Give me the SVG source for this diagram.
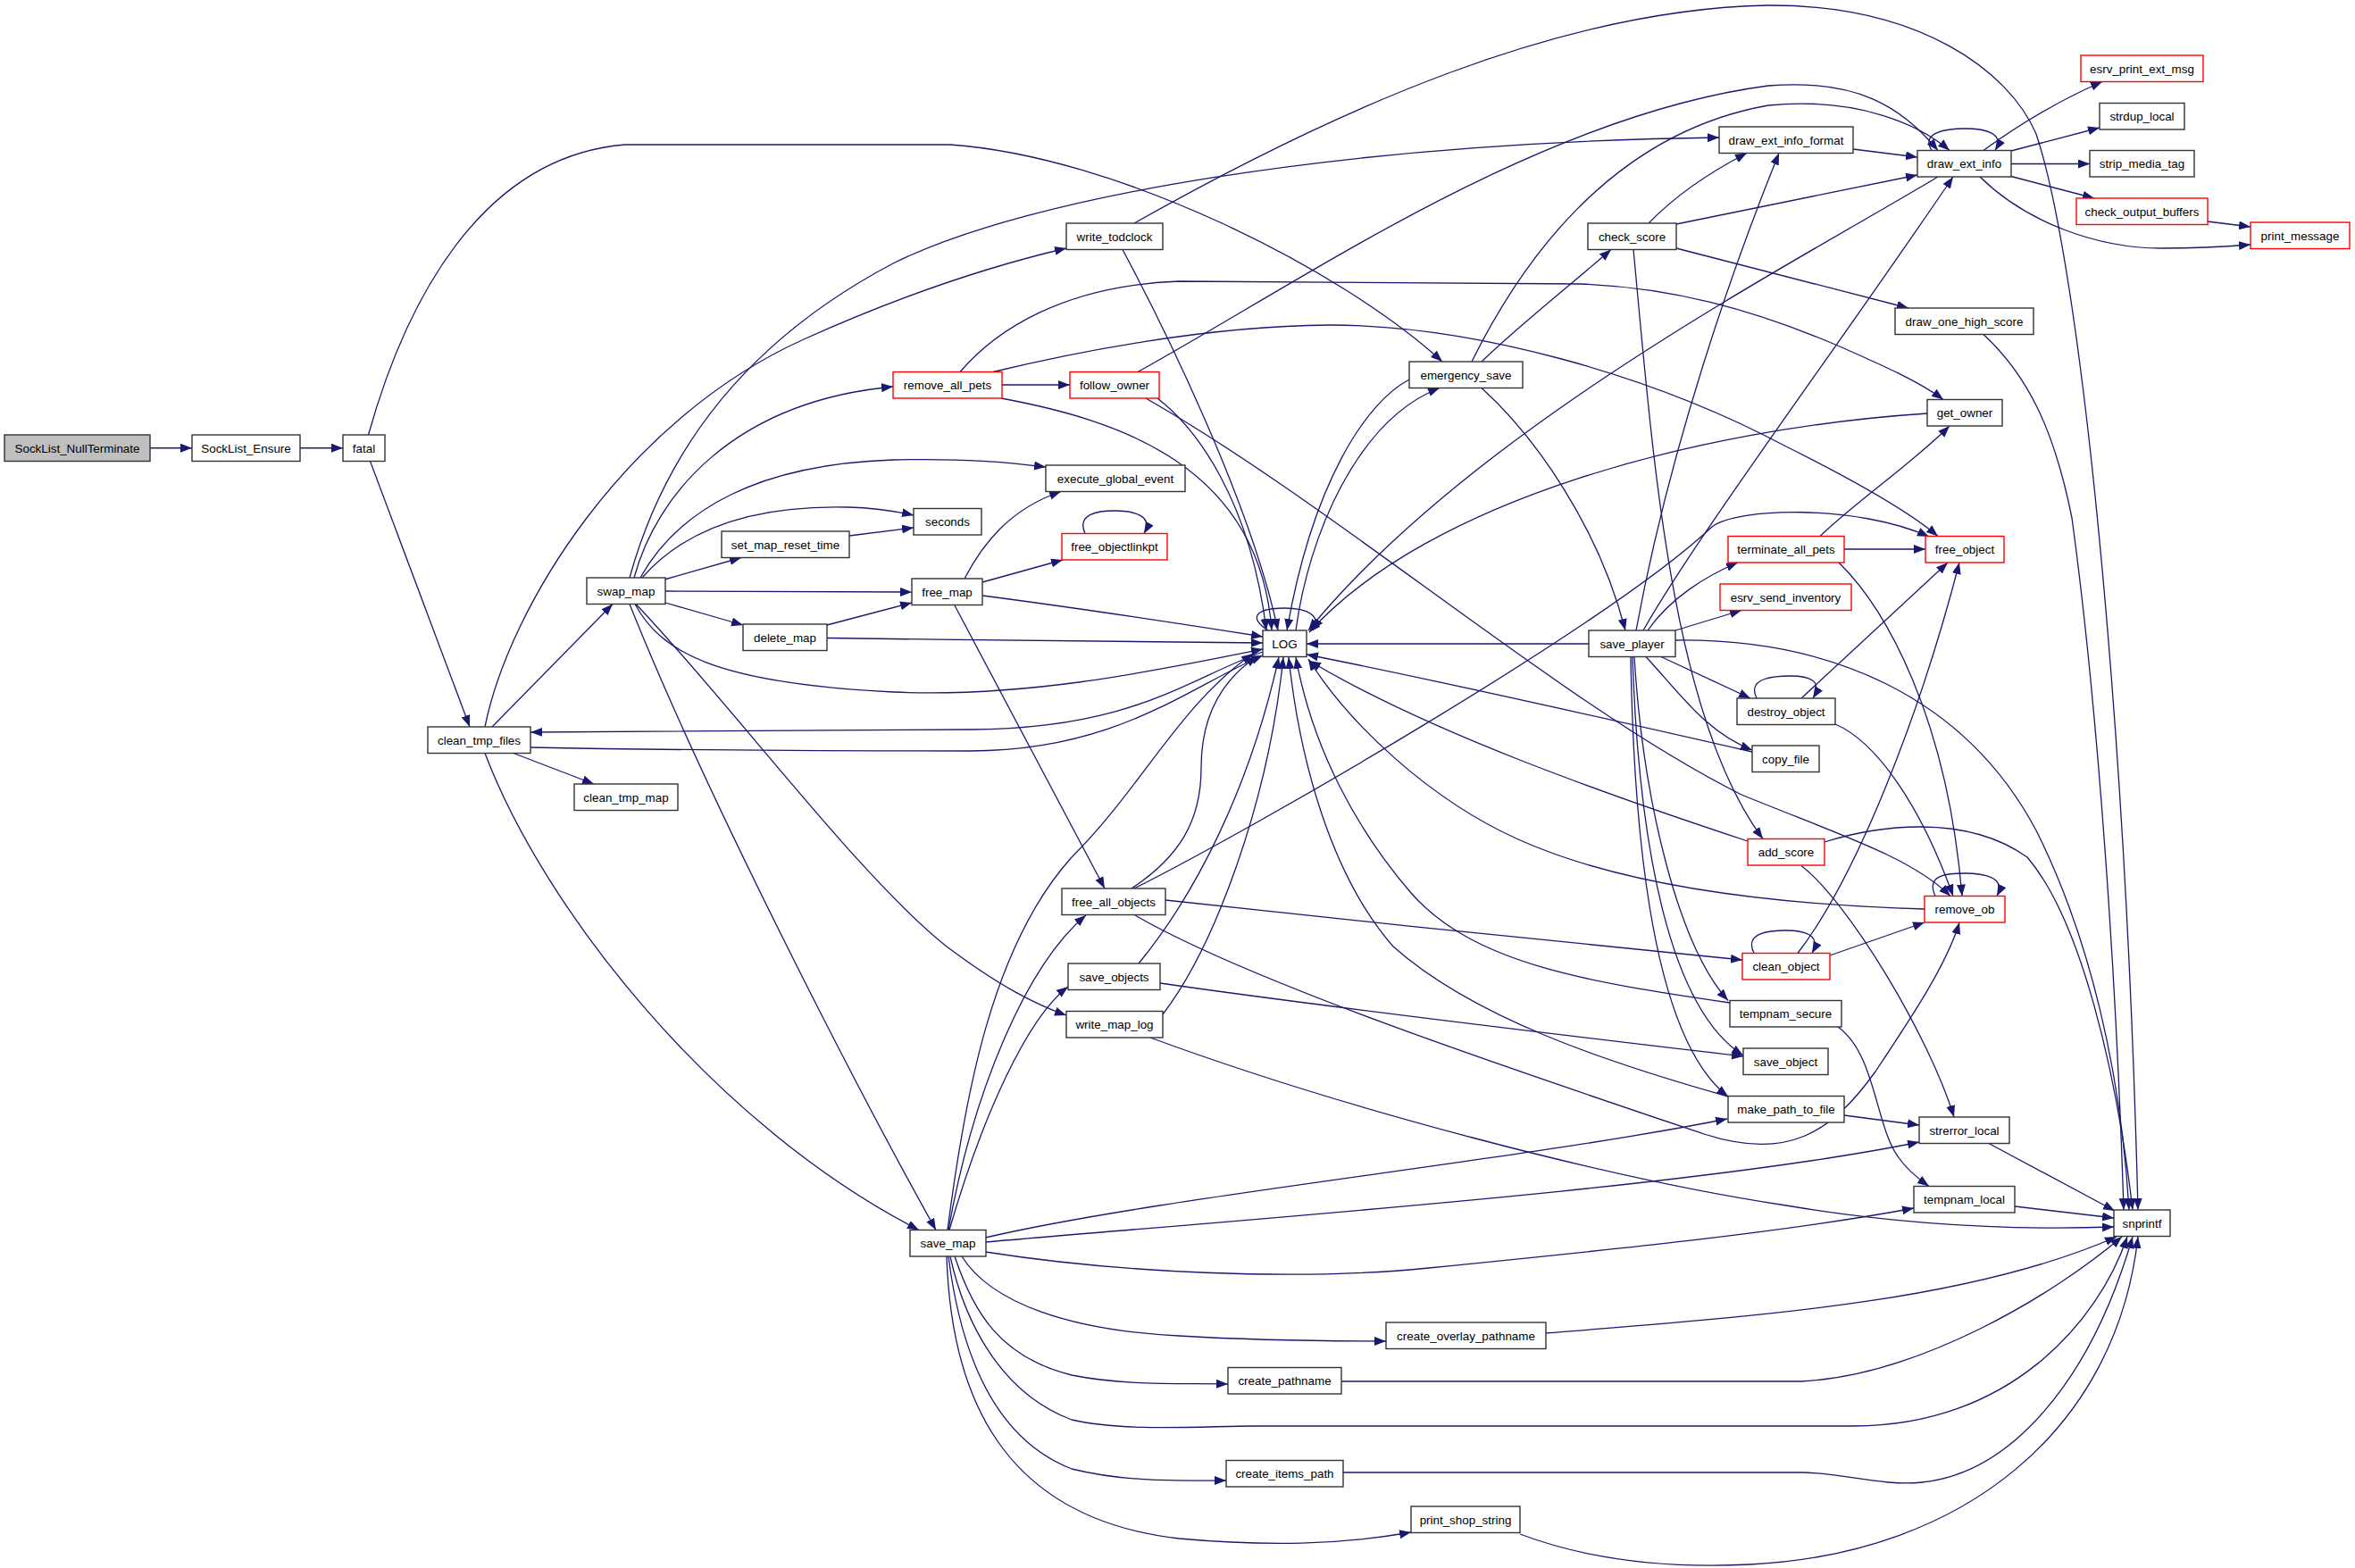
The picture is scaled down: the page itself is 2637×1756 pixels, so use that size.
<svg xmlns="http://www.w3.org/2000/svg" width="2637" height="1756" viewBox="0 0 2637 1756">
<style>
.node rect{fill:#fff;stroke:#333;stroke-width:1.4}
.node.red rect{stroke:#f00}
.node.root rect{fill:#bfbfbf}
.node text{font-family:"Liberation Sans",Arial,sans-serif;font-size:13.4px;text-anchor:middle;fill:#000}
#edges path{fill:none;stroke:#191970;stroke-width:1.3;marker-end:url(#ah)}
</style>
<defs>
<marker id="ah" markerWidth="14" markerHeight="11" refX="13" refY="5" orient="auto" markerUnits="userSpaceOnUse"><path d="M0,0 L13,5 L0,10 z" fill="#191970"/></marker>
</defs>
<rect width="2637" height="1756" fill="#fff"/>
<g id="edges">
<path d="M168,501.75 L215,501.75"/>
<path d="M336,501.75 L384,501.75"/>
<path d="M414.5,516.5 L526,814"/>
<path d="M412.5,487 C455,335 540,175 700,162 L1064,162 C1250,175 1500,300 1615,405"/>
<path d="M551,814 L686,676.5"/>
<path d="M575,843.5 L665,878"/>
<path d="M543,843.5 C610,1020 800,1260 1029,1377.5"/>
<path d="M543,814 C570,680 700,470 900,380 C1000,335 1100,300 1194,278"/>
<path d="M594,837 C800,841 1000,841 1086,841 C1250,841 1330,770 1414,734"/>
<path d="M1414,730 C1330,760 1270,816 1086,817 C900,818 700,819 594,820"/>
<path d="M744,649 L830,624.5"/>
<path d="M745,662 L1021,663"/>
<path d="M745,675 L832,700"/>
<path d="M710,647 C735,555 820,450 1000,433"/>
<path d="M717,647 C760,570 850,520 1000,515 C1080,513 1130,518 1171,523"/>
<path d="M719,647 C760,600 830,565 950,568 C985,569 1005,573 1023,577"/>
<path d="M705,647 C740,520 820,390 1000,295 C1150,220 1500,160 1925,154"/>
<path d="M705,676.5 C790,890 960,1220 1048,1377.5"/>
<path d="M712,676.5 C820,790 960,980 1060,1060 C1120,1105 1160,1125 1194,1137"/>
<path d="M711,676.5 C740,730 800,765 1000,775 C1150,782 1300,750 1414,727"/>
<path d="M951,600 L1023,591"/>
<path d="M1080,648 C1100,610 1130,570 1188,550.5"/>
<path d="M1100,652 L1190,627"/>
<path d="M1069,678 L1237,995"/>
<path d="M1100,667 C1200,680 1300,695 1414,713"/>
<path d="M926,700 L1021,675"/>
<path d="M926,714.5 C1100,717 1300,719 1414,720"/>
<path d="M1215,597.5 C1205,575 1230,572 1248,572 C1270,572 1292,578 1281,597.5"/>
<path d="M1122,431 L1198,431"/>
<path d="M1075,416.5 C1115,370 1190,320 1320,315 L1770,318 C1870,322 1960,345 2060,388 C2110,410 2150,428 2176,447.5"/>
<path d="M1112,416.5 C1200,395 1350,365 1488,364 C1650,364 1850,420 2000,500 C2090,545 2140,575 2170,600.5"/>
<path d="M1121,446 C1250,470 1410,520 1424,706"/>
<path d="M1296,446 C1340,480 1400,560 1418,706"/>
<path d="M1283,446 C1500,570 1750,790 1950,890 C2060,935 2140,960 2184,1003.5"/>
<path d="M1274,416.5 C1450,320 1720,130 1980,96 C2080,88 2130,120 2170,168.5"/>
<path d="M1257,279.5 C1300,360 1400,560 1431,706"/>
<path d="M1270,250 C1500,120 1750,10 1980,6 C2150,5 2250,80 2280,150 C2330,300 2380,800 2394,1355"/>
<path d="M1578,425 C1530,450 1470,540 1441,706"/>
<path d="M1451,706 C1465,600 1520,470 1612,434.5"/>
<path d="M1659,405 C1700,365 1760,318 1804,279.5"/>
<path d="M1659,434.5 C1720,490 1790,590 1820,706"/>
<path d="M1648,405 C1700,300 1800,150 1980,118 C2080,108 2150,140 2183,168.5"/>
<path d="M1846,250 C1880,215 1920,190 1956,171.5"/>
<path d="M1877,251 L2147,196"/>
<path d="M1877,278 L2137,345"/>
<path d="M1829,279.5 C1850,500 1870,800 1974,939.5"/>
<path d="M2170,198 C2000,300 1650,480 1465,706"/>
<path d="M2158,463 C1900,480 1600,560 1466,708"/>
<path d="M1779,721 L1463,721"/>
<path d="M1832,706 C1870,500 1940,300 1992,171.5"/>
<path d="M1840,706 C1900,600 2050,400 2187,198"/>
<path d="M1845,706 C1870,670 1910,645 1946,630"/>
<path d="M1876,706 L1950,683.5"/>
<path d="M1860,735.5 L1960,782"/>
<path d="M1843,735.5 C1880,775 1910,820 1962,840"/>
<path d="M1830,735.5 C1840,900 1880,1060 1935,1120.5"/>
<path d="M1828,735.5 C1835,950 1870,1130 1952,1182"/>
<path d="M1826,735.5 C1830,980 1860,1170 1935,1228"/>
<path d="M1876,717 C2050,715 2200,780 2280,930 C2340,1050 2375,1200 2384,1355"/>
<path d="M2221,374.5 C2270,420 2300,480 2320,580 C2350,800 2370,1100 2378,1355"/>
<path d="M2043,943 C2100,925 2200,910 2270,960 C2330,1030 2370,1200 2388,1355"/>
<path d="M1957,942 C1800,890 1600,820 1466,740"/>
<path d="M2017,969.5 C2070,1010 2160,1160 2188,1251"/>
<path d="M1962,842 C1800,805 1600,760 1463,733"/>
<path d="M1967,782 C1955,758 1990,757 2005,757 C2025,757 2042,762 2030,782"/>
<path d="M2017,782 L2181,630"/>
<path d="M2055,811 C2100,830 2150,900 2187,1003.5"/>
<path d="M2065,615 L2156,615"/>
<path d="M2038,600.5 C2080,560 2140,520 2183,477"/>
<path d="M2059,630 C2110,680 2180,800 2197,1003.5"/>
<path d="M1964,1067.5 C1952,1043 1985,1042 2000,1042 C2020,1042 2040,1047 2029,1067.5"/>
<path d="M2013,1067.5 C2080,980 2150,800 2194,630"/>
<path d="M2049,1070 L2155,1033"/>
<path d="M2167,1003.5 C2155,978 2185,978 2200,978 C2220,978 2247,982 2236,1003.5"/>
<path d="M2155,1018 C1950,1012 1800,985 1700,940 C1600,895 1510,810 1465,738"/>
<path d="M1271,1025 C1400,1100 1700,1200 1908,1270 C2000,1300 2050,1270 2100,1200 C2140,1140 2180,1080 2194,1033"/>
<path d="M1305,1008 C1500,1030 1800,1060 1951,1075"/>
<path d="M1270,995 C1400,930 1800,700 1917,590 C1945,568 2080,565 2160,601"/>
<path d="M1267,995 C1320,960 1345,920 1345,860 C1345,800 1370,760 1408,735"/>
<path d="M1275,1079 C1340,1000 1400,880 1432,736"/>
<path d="M1299,1101 C1500,1130 1800,1165 1952,1183"/>
<path d="M1302,1136 C1360,1060 1420,900 1437,736"/>
<path d="M1288,1162 C1500,1240 1800,1320 2000,1350 C2150,1375 2280,1377 2367,1374"/>
<path d="M1937,1123 C1780,1100 1650,1080 1580,1000 C1520,930 1470,840 1451,736"/>
<path d="M2058,1150 C2100,1180 2100,1260 2125,1295 C2135,1310 2148,1320 2160,1328.5"/>
<path d="M1935,1228 C1800,1190 1650,1140 1560,1060 C1490,980 1455,850 1443,736"/>
<path d="M2065,1249 L2149,1260"/>
<path d="M2227,1280.5 L2368,1356"/>
<path d="M2256,1351 L2367,1364"/>
<path d="M1061,1377.5 C1080,1230 1110,1060 1200,960 C1280,880 1320,790 1403,732"/>
<path d="M1062,1377.5 C1090,1220 1150,1080 1216,1025"/>
<path d="M1063,1377.5 C1100,1250 1150,1140 1196,1105"/>
<path d="M1103.5,1386 C1300,1340 1700,1300 1934,1253"/>
<path d="M1103.5,1391 C1400,1365 1900,1330 2149,1279"/>
<path d="M1103.5,1402 C1250,1425 1450,1435 1600,1420 C1800,1400 2000,1380 2143,1353"/>
<path d="M1064,1407 C1080,1480 1120,1560 1200,1590 C1260,1604 1350,1597 1404,1597 L2076,1597 C2250,1597 2350,1480 2382,1385"/>
<path d="M1077,1407 C1110,1460 1200,1490 1320,1496 C1420,1502 1500,1502 1552,1502"/>
<path d="M1069,1407 C1090,1470 1120,1520 1200,1540 C1260,1552 1320,1549 1375,1550"/>
<path d="M1062,1407 C1075,1510 1110,1610 1200,1645 C1260,1660 1320,1658 1373,1658"/>
<path d="M1060,1407 C1065,1560 1120,1700 1320,1723 C1420,1732 1500,1730 1580,1716"/>
<path d="M1731,1493 C1950,1475 2200,1460 2370,1385"/>
<path d="M1502,1547 L2017,1547 C2150,1540 2300,1450 2376,1385"/>
<path d="M1504,1649 L2017,1649 C2060,1649 2110,1665 2152,1660 C2250,1650 2340,1550 2388,1385"/>
<path d="M1702,1718 C1800,1755 1900,1755 1960,1752 C2200,1740 2370,1600 2394,1385"/>
<path d="M1420,706 C1395,690 1410,681 1438,681 C1465,681 1480,690 1470,706"/>
<path d="M2075,167 L2147,176"/>
<path d="M2163,168.5 C2150,148 2180,144 2200,144 C2225,144 2245,150 2234,168.5"/>
<path d="M2221,168.5 C2260,140 2300,115 2354,91.5"/>
<path d="M2252,169 L2351,143"/>
<path d="M2252,183.5 L2340,183.5"/>
<path d="M2252,197.5 L2345,222"/>
<path d="M2217,198 C2270,250 2350,278 2420,278 C2460,278 2495,276 2520,274"/>
<path d="M2472,248 L2520,254"/>
</g>
<g id="n1" class="node root"><rect x="5" y="487" width="163" height="29.5"/><text x="86.5" y="506.8">SockList_NullTerminate</text></g>
<g id="n2" class="node"><rect x="215" y="487" width="121" height="29.5"/><text x="275.5" y="506.8">SockList_Ensure</text></g>
<g id="n3" class="node"><rect x="384" y="487" width="47" height="29.5"/><text x="407.5" y="506.8">fatal</text></g>
<g id="n4" class="node"><rect x="479" y="814" width="115" height="29.5"/><text x="536.5" y="833.8">clean_tmp_files</text></g>
<g id="n5" class="node"><rect x="657" y="647" width="88" height="29.5"/><text x="701" y="666.8">swap_map</text></g>
<g id="n6" class="node"><rect x="643" y="878" width="116" height="29.5"/><text x="701" y="897.8">clean_tmp_map</text></g>
<g id="n7" class="node"><rect x="808" y="595" width="143" height="29.5"/><text x="879.5" y="614.8">set_map_reset_time</text></g>
<g id="n8" class="node"><rect x="832" y="699" width="94" height="29.5"/><text x="879" y="718.8">delete_map</text></g>
<g id="n9" class="node"><rect x="1021" y="648" width="79" height="29.5"/><text x="1060.5" y="667.8">free_map</text></g>
<g id="n10" class="node red"><rect x="1000" y="416.5" width="122" height="29.5"/><text x="1061" y="436.3">remove_all_pets</text></g>
<g id="n11" class="node"><rect x="1023" y="569.5" width="76" height="29.5"/><text x="1061" y="589.3">seconds</text></g>
<g id="n12" class="node"><rect x="1019" y="1377.5" width="85" height="29.5"/><text x="1061.5" y="1397.3">save_map</text></g>
<g id="n13" class="node"><rect x="1194" y="250" width="108" height="29.5"/><text x="1248" y="269.8">write_todclock</text></g>
<g id="n14" class="node red"><rect x="1198" y="416.5" width="100" height="29.5"/><text x="1248" y="436.3">follow_owner</text></g>
<g id="n15" class="node"><rect x="1171" y="521" width="156" height="29.5"/><text x="1249" y="540.8">execute_global_event</text></g>
<g id="n16" class="node red"><rect x="1189" y="597.5" width="118" height="29.5"/><text x="1248" y="617.3">free_objectlinkpt</text></g>
<g id="n17" class="node"><rect x="1189" y="995" width="116" height="29.5"/><text x="1247" y="1014.8">free_all_objects</text></g>
<g id="n18" class="node"><rect x="1196" y="1079" width="103" height="29.5"/><text x="1247.5" y="1098.8">save_objects</text></g>
<g id="n19" class="node"><rect x="1194" y="1132.5" width="108" height="29.5"/><text x="1248" y="1152.3">write_map_log</text></g>
<g id="n20" class="node"><rect x="1414" y="706" width="49" height="29.5"/><text x="1438.5" y="725.8">LOG</text></g>
<g id="n21" class="node"><rect x="1375" y="1531.5" width="127" height="29.5"/><text x="1438.5" y="1551.3">create_pathname</text></g>
<g id="n22" class="node"><rect x="1373" y="1635.5" width="131" height="29.5"/><text x="1438.5" y="1655.3">create_items_path</text></g>
<g id="n23" class="node"><rect x="1578" y="405" width="127" height="29.5"/><text x="1641.5" y="424.8">emergency_save</text></g>
<g id="n24" class="node"><rect x="1552" y="1481" width="179" height="29.5"/><text x="1641.5" y="1500.8">create_overlay_pathname</text></g>
<g id="n25" class="node"><rect x="1580" y="1687" width="122" height="29.5"/><text x="1641" y="1706.8">print_shop_string</text></g>
<g id="n26" class="node"><rect x="1778" y="250" width="99" height="29.5"/><text x="1827.5" y="269.8">check_score</text></g>
<g id="n27" class="node"><rect x="1779" y="706" width="97" height="29.5"/><text x="1827.5" y="725.8">save_player</text></g>
<g id="n28" class="node"><rect x="1925" y="142" width="150" height="29.5"/><text x="2000" y="161.8">draw_ext_info_format</text></g>
<g id="n29" class="node red"><rect x="1935" y="600.5" width="130" height="29.5"/><text x="2000" y="620.3">terminate_all_pets</text></g>
<g id="n30" class="node red"><rect x="1926" y="654" width="147" height="29.5"/><text x="1999.5" y="673.8">esrv_send_inventory</text></g>
<g id="n31" class="node"><rect x="1945" y="782" width="110" height="29.5"/><text x="2000" y="801.8">destroy_object</text></g>
<g id="n32" class="node"><rect x="1962" y="835" width="75" height="29.5"/><text x="1999.5" y="854.8">copy_file</text></g>
<g id="n33" class="node red"><rect x="1957" y="939.5" width="86" height="29.5"/><text x="2000" y="959.3">add_score</text></g>
<g id="n34" class="node red"><rect x="1951" y="1067.5" width="98" height="29.5"/><text x="2000" y="1087.3">clean_object</text></g>
<g id="n35" class="node"><rect x="1937" y="1120.5" width="125" height="29.5"/><text x="1999.5" y="1140.3">tempnam_secure</text></g>
<g id="n36" class="node"><rect x="1952" y="1174" width="95" height="29.5"/><text x="1999.5" y="1193.8">save_object</text></g>
<g id="n37" class="node"><rect x="1935" y="1227.5" width="130" height="29.5"/><text x="2000" y="1247.3">make_path_to_file</text></g>
<g id="n38" class="node"><rect x="2147" y="168.5" width="105" height="29.5"/><text x="2199.5" y="188.3">draw_ext_info</text></g>
<g id="n39" class="node"><rect x="2122" y="345" width="155" height="29.5"/><text x="2199.5" y="364.8">draw_one_high_score</text></g>
<g id="n40" class="node"><rect x="2158" y="447.5" width="84" height="29.5"/><text x="2200" y="467.3">get_owner</text></g>
<g id="n41" class="node red"><rect x="2156" y="600.5" width="88" height="29.5"/><text x="2200" y="620.3">free_object</text></g>
<g id="n42" class="node red"><rect x="2155" y="1003.5" width="90" height="29.5"/><text x="2200" y="1023.3">remove_ob</text></g>
<g id="n43" class="node"><rect x="2149" y="1251" width="101" height="29.5"/><text x="2199.5" y="1270.8">strerror_local</text></g>
<g id="n44" class="node"><rect x="2143" y="1328.5" width="113" height="29.5"/><text x="2199.5" y="1348.3">tempnam_local</text></g>
<g id="n45" class="node red"><rect x="2330" y="62" width="137" height="29.5"/><text x="2398.5" y="81.8">esrv_print_ext_msg</text></g>
<g id="n46" class="node"><rect x="2351" y="115.5" width="95" height="29.5"/><text x="2398.5" y="135.3">strdup_local</text></g>
<g id="n47" class="node"><rect x="2340" y="168.5" width="117" height="29.5"/><text x="2398.5" y="188.3">strip_media_tag</text></g>
<g id="n48" class="node red"><rect x="2325" y="222" width="147" height="29.5"/><text x="2398.5" y="241.8">check_output_buffers</text></g>
<g id="n49" class="node"><rect x="2367" y="1355" width="63" height="29.5"/><text x="2398.5" y="1374.8">snprintf</text></g>
<g id="n50" class="node red"><rect x="2520" y="249" width="111" height="29.5"/><text x="2575.5" y="268.8">print_message</text></g>
</svg>
